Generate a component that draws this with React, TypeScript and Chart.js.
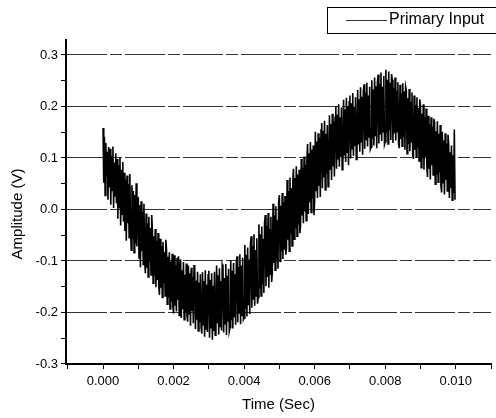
import React, { useEffect, useRef } from "react";
import { Chart, registerables } from "chart.js";

Chart.register(...registerables);

// Sampling of the recorded signal
const START_TIME = 0; // s
const SAMPLE_INTERVAL = 0.00002; // s

// Primary input amplitude (V) (10 samples per 0.2 ms)
const primaryInput: number[] = [
  0.158, 0.052, 0.141, 0.027, 0.129, 0.064, 0.112, 0.019, 0.121, 0.043,
  0.118, 0.009, 0.104, 0.037, 0.122, 0.003, 0.091, 0.026, 0.109, 0.012,
  0.098, -0.018, 0.086, 0.004, 0.101, -0.031, 0.077, -0.009, 0.092, -0.024,
  0.071, -0.042, 0.058, -0.061, 0.066, -0.027, 0.049, -0.055, 0.069, -0.038,
  -0.079, 0.047, -0.058, 0.036, -0.084, 0.028, -0.066, 0.051, -0.072, 0.019,
  0.021, -0.094, 0.008, -0.112, 0.016, -0.081, -0.004, -0.107, 0.011, -0.098,
  -0.124, -0.008, -0.113, -0.027, -0.131, -0.014, -0.102, -0.036, -0.127, -0.011,
  -0.041, -0.143, -0.052, -0.128, -0.038, -0.151, -0.061, -0.137, -0.046, -0.149,
  -0.166, -0.057, -0.152, -0.071, -0.171, -0.063, -0.144, -0.082, -0.168, -0.059,
  -0.078, -0.184, -0.092, -0.171, -0.083, -0.193, -0.101, -0.179, -0.086, -0.188,
  -0.202, -0.089, -0.187, -0.108, -0.198, -0.094, -0.176, -0.091, -0.206, -0.113,
  -0.097, -0.211, -0.118, -0.194, -0.102, -0.214, -0.127, -0.199, -0.105, -0.207,
  -0.218, -0.109, -0.203, -0.124, -0.226, -0.113, -0.197, -0.131, -0.221, -0.108,
  -0.117, -0.232, -0.138, -0.214, -0.121, -0.236, -0.142, -0.219, -0.126, -0.228,
  -0.241, -0.122, -0.224, -0.139, -0.247, -0.118, -0.232, -0.146, -0.238, -0.127,
  -0.119, -0.249, -0.137, -0.231, -0.124, -0.253, -0.148, -0.236, -0.121, -0.244,
  -0.238, -0.109, -0.221, -0.128, -0.243, -0.114, -0.227, -0.139, -0.235, -0.107,
  -0.112, -0.239, -0.133, -0.222, -0.106, -0.244, -0.129, -0.218, -0.115, -0.236,
  -0.229, -0.098, -0.214, -0.119, -0.231, -0.104, -0.208, -0.126, -0.224, -0.101,
  -0.091, -0.219, -0.112, -0.201, -0.087, -0.223, -0.109, -0.207, -0.094, -0.214,
  -0.211, -0.069, -0.193, -0.088, -0.208, -0.074, -0.186, -0.097, -0.203, -0.067,
  -0.052, -0.191, -0.071, -0.174, -0.048, -0.187, -0.079, -0.168, -0.056, -0.183,
  -0.171, -0.029, -0.154, -0.048, -0.168, -0.033, -0.146, -0.057, -0.162, -0.026,
  -0.011, -0.149, -0.032, -0.131, -0.007, -0.152, -0.038, -0.126, -0.014, -0.141,
  -0.122, 0.011, -0.104, -0.012, -0.118, 0.006, -0.097, -0.021, -0.115, 0.013,
  0.028, -0.101, 0.007, -0.082, 0.032, -0.096, 0.014, -0.078, 0.026, -0.088,
  -0.076, 0.057, -0.059, 0.036, -0.081, 0.062, -0.048, 0.041, -0.071, 0.054,
  0.079, -0.058, 0.061, -0.037, 0.084, -0.052, 0.068, -0.029, 0.077, -0.046,
  -0.031, 0.098, -0.012, 0.081, -0.027, 0.103, -0.004, 0.087, -0.022, 0.096,
  0.127, -0.009, 0.109, 0.014, 0.131, -0.006, 0.116, 0.021, 0.124, -0.011,
  0.018, 0.151, 0.037, 0.132, 0.022, 0.148, 0.046, 0.139, 0.024, 0.154,
  0.168, 0.041, 0.153, 0.062, 0.172, 0.038, 0.147, 0.069, 0.164, 0.044,
  0.061, 0.183, 0.078, 0.166, 0.057, 0.186, 0.084, 0.171, 0.064, 0.179,
  0.201, 0.079, 0.184, 0.097, 0.204, 0.083, 0.179, 0.102, 0.198, 0.077,
  0.088, 0.213, 0.106, 0.194, 0.092, 0.217, 0.111, 0.201, 0.086, 0.209,
  0.221, 0.099, 0.206, 0.118, 0.226, 0.104, 0.199, 0.123, 0.218, 0.097,
  0.109, 0.232, 0.126, 0.214, 0.112, 0.237, 0.131, 0.219, 0.106, 0.229,
  0.243, 0.118, 0.227, 0.136, 0.246, 0.122, 0.221, 0.139, 0.238, 0.117,
  0.121, 0.251, 0.138, 0.233, 0.124, 0.256, 0.142, 0.239, 0.119, 0.248,
  0.262, 0.128, 0.244, 0.147, 0.266, 0.133, 0.238, 0.151, 0.259, 0.126,
  0.131, 0.271, 0.149, 0.252, 0.127, 0.268, 0.154, 0.246, 0.135, 0.263,
  0.252, 0.129, 0.236, 0.148, 0.256, 0.134, 0.231, 0.151, 0.247, 0.127,
  0.119, 0.242, 0.137, 0.226, 0.123, 0.245, 0.141, 0.229, 0.116, 0.238,
  0.231, 0.108, 0.216, 0.127, 0.234, 0.113, 0.209, 0.131, 0.227, 0.106,
  0.098, 0.221, 0.116, 0.203, 0.102, 0.218, 0.121, 0.197, 0.094, 0.214,
  0.201, 0.081, 0.186, 0.099, 0.204, 0.077, 0.179, 0.103, 0.196, 0.084,
  0.063, 0.182, 0.079, 0.166, 0.058, 0.179, 0.086, 0.161, 0.067, 0.176,
  0.169, 0.049, 0.152, 0.068, 0.171, 0.053, 0.147, 0.072, 0.164, 0.046,
  0.033, 0.151, 0.052, 0.134, 0.029, 0.148, 0.057, 0.128, 0.036, 0.145,
  0.127, 0.022, 0.111, 0.041, 0.124, 0.018, 0.105, 0.032, 0.155, 0.019,
];

const SERIES_LABEL = "Primary Input";
const X_TITLE = "Time (Sec)";
const Y_TITLE = "Amplitude (V)";
const X_MIN = -0.00105;
const X_MAX = 0.011;
const X_STEP = 0.001;
const Y_MIN = -0.3001;
const Y_MAX = 0.329;
const Y_STEP = 0.05;

const FONT = '"Liberation Sans", Arial, sans-serif';

const decorPlugin = {
  id: "decor",
  afterDraw(chart: any) {
    const ctx = chart.ctx;
    const area = chart.chartArea;
    ctx.save();
    // y-axis title
    ctx.fillStyle = "#000";
    ctx.font = `15px ${FONT}`;
    ctx.textAlign = "center";
    ctx.textBaseline = "middle";
    ctx.translate(18, (area.top + area.bottom) / 2 + 12);
    ctx.rotate(-Math.PI / 2);
    ctx.fillText(Y_TITLE, 0, 0);
    ctx.restore();

    // legend box
    ctx.save();
    ctx.strokeStyle = "#000";
    ctx.lineWidth = 1;
    ctx.strokeRect(327.5, 7.5, 180, 26);
    ctx.strokeStyle = "#333";
    ctx.beginPath();
    ctx.moveTo(346, 20.5);
    ctx.lineTo(387, 20.5);
    ctx.stroke();
    ctx.fillStyle = "#000";
    ctx.font = `16px ${FONT}`;
    ctx.textAlign = "left";
    ctx.textBaseline = "middle";
    ctx.fillText(SERIES_LABEL, 389, 20);
    ctx.restore();
  },
};

export default function App() {
  const ref = useRef<HTMLCanvasElement | null>(null);

  useEffect(() => {
    if (!ref.current) return;
    const points = primaryInput.map((v, i) => ({ x: START_TIME + i * SAMPLE_INTERVAL, y: v }));
    const chart = new Chart(ref.current, {
      type: "line",
      data: {
        datasets: [
          {
            label: SERIES_LABEL,
            data: points,
            borderColor: "#000",
            borderWidth: 1.6,
            pointRadius: 0,
            tension: 0,
            fill: false,
          },
        ],
      },
      options: {
        animation: false,
        responsive: false,
        maintainAspectRatio: false,
        layout: { padding: { top: 40, right: 4, left: 0, bottom: 0 } },
        plugins: {
          legend: { display: false },
          tooltip: { enabled: false },
        },
        scales: {
          x: {
            type: "linear",
            min: X_MIN,
            max: X_MAX,
            afterFit: (s: any) => {
              s.height = 54;
            },
            ticks: {
              stepSize: X_STEP,
              includeBounds: false,
              autoSkip: false,
              maxRotation: 0,
              padding: 5,
              color: "#000",
              font: { family: FONT, size: 13 },
              callback: (v: any) => {
                const k = Math.round(Number(v) * 1000);
                return k % 2 === 0 ? (k / 1000).toFixed(3) : "";
              },
            },
            grid: {
              drawOnChartArea: false,
              drawTicks: true,
              tickColor: "#000",
              tickLength: 5,
            },
            border: { display: true, color: "#000", width: 2 },
            title: {
              display: true,
              text: X_TITLE,
              color: "#000",
              font: { family: FONT, size: 15 },
              padding: { top: 0, bottom: 4 },
            },
          },
          y: {
            type: "linear",
            min: Y_MIN,
            max: Y_MAX,
            afterFit: (s: any) => {
              s.width = 66;
            },
            ticks: {
              stepSize: Y_STEP,
              includeBounds: false,
              autoSkip: false,
              padding: 3,
              color: "#000",
              font: { family: FONT, size: 13 },
              callback: (v: any) => {
                const k = Math.round(Number(v) * 100);
                return k % 10 === 0 ? (k / 100).toFixed(1) : "";
              },
            },
            grid: {
              drawTicks: true,
              tickLength: 5,
              tickColor: "#000",
              lineWidth: 1,
              color: (c: any) => {
                const k = Math.round(Number(c.tick?.value) * 100);
                return k % 10 === 0 && k !== -30 ? "#333" : "rgba(0,0,0,0)";
              },
            },
            border: { display: true, color: "#000", width: 2, dash: [40, 3, 12, 3] },
          },
        },
      },
      plugins: [decorPlugin],
    } as any);
    return () => chart.destroy();
  }, []);

  return (
    <div style={{ position: "fixed", left: 0, top: 0, width: 496, height: 418, background: "#fff" }}>
      <canvas ref={ref} width={496} height={418} style={{ display: "block" }} />
    </div>
  );
}
